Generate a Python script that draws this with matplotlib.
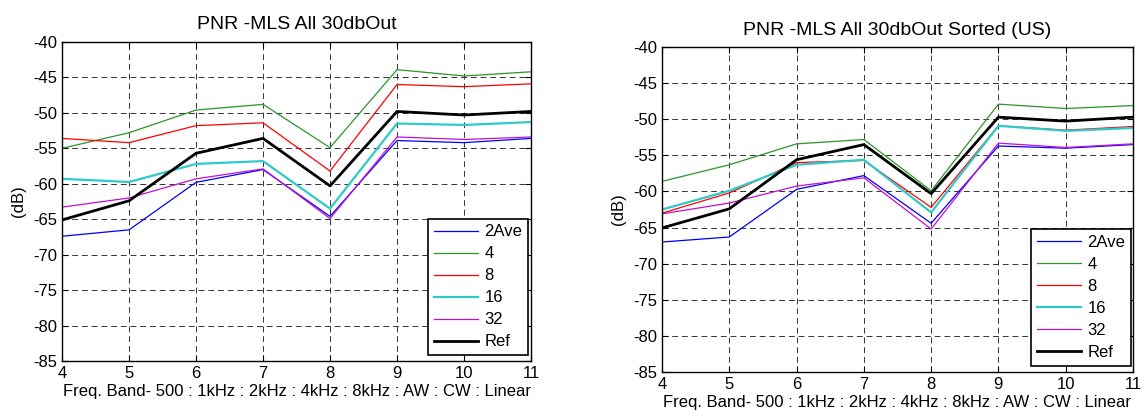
import matplotlib.pyplot as plt

plt.rcParams['font.family'] = ['Liberation Sans', 'DejaVu Sans']
plt.rcParams['axes.unicode_minus'] = False

bands = [4, 5, 6, 7, 8, 9, 10, 11]
labels = ['2Ave', '4', '8', '16', '32', 'Ref']

# left panel: PNR -MLS All 30dbOut
left_2ave = [-67.4, -66.5, -59.8, -58.0, -64.6, -53.9, -54.2, -53.6]
left_4 = [-55.0, -52.8, -49.6, -48.8, -54.9, -43.9, -44.8, -44.2]
left_8 = [-53.6, -54.2, -51.8, -51.4, -58.2, -46.0, -46.3, -45.9]
left_16 = [-59.3, -59.75, -57.2, -56.8, -63.5, -51.5, -51.7, -51.3]
left_32 = [-63.3, -62.0, -59.3, -57.9, -64.9, -53.4, -53.75, -53.4]
left_ref = [-65.1, -62.4, -55.7, -53.6, -60.3, -49.8, -50.3, -49.8]

# right panel: sorted (US)
right_2ave = [-67.0, -66.3, -59.7, -57.8, -64.4, -53.7, -54.0, -53.5]
right_4 = [-58.6, -56.3, -53.4, -52.8, -59.9, -47.9, -48.5, -48.1]
right_8 = [-63.0, -60.2, -56.0, -55.7, -62.2, -50.9, -51.5, -51.0]
right_16 = [-62.5, -59.9, -56.3, -55.6, -62.9, -50.9, -51.6, -51.2]
right_32 = [-63.1, -61.6, -59.25, -58.1, -65.2, -53.3, -53.9, -53.4]
right_ref = [-65.05, -62.4, -55.6, -53.5, -60.3, -49.7, -50.25, -49.7]

colors = ['#0000ff', '#2a962a', '#ff0000', '#30c8c8', '#c010d0', '#000000']
widths = [0.9, 0.9, 0.9, 1.6, 0.9, 2.0]


def panel(ax, series, title, legend_x):
    for s, lab, c, w in zip(series, labels, colors, widths):
        ax.plot(bands, s, color=c, lw=w, label=lab)
    ax.set_xlim(4, 11)
    ax.set_ylim(-85, -40)
    ax.set_xticks(bands)
    ax.set_yticks(range(-85, -39, 5))
    ax.grid(True, color='#333333', lw=0.7, dashes=(6, 4))
    ax.tick_params(direction='in', top=True, right=True, length=4,
                   labelsize=12, pad=3.5)
    for sp in ax.spines.values():
        sp.set_linewidth(1.0)
    ax.set_title(title, fontsize=14, pad=9)
    ax.set_xlabel('Freq. Band- 500 : 1kHz : 2kHz : 4kHz : 8kHz : AW : CW : Linear',
                  fontsize=12, labelpad=2)
    ax.set_ylabel('(dB)', fontsize=12, labelpad=5)
    leg = ax.legend(loc='lower right', bbox_to_anchor=(legend_x, 0.018),
                    borderaxespad=0, fontsize=12, fancybox=False,
                    framealpha=1, edgecolor='black', handlelength=2.6,
                    handletextpad=0.4, labelspacing=0.42, borderpad=0.35)
    leg.get_frame().set_linewidth(1.2)


fig = plt.figure(figsize=(11.42, 4.17), dpi=100)
ax1 = fig.add_axes([0.0543, 0.1343, 0.4107, 0.765])
ax2 = fig.add_axes([0.5797, 0.108, 0.4124, 0.779])

panel(ax1, [left_2ave, left_4, left_8, left_16, left_32, left_ref],
      'PNR -MLS All 30dbOut', 0.9936)
panel(ax2, [right_2ave, right_4, right_8, right_16, right_32, right_ref],
      'PNR -MLS All 30dbOut Sorted (US)', 0.9958)

fig.savefig('out.png', dpi=100)
